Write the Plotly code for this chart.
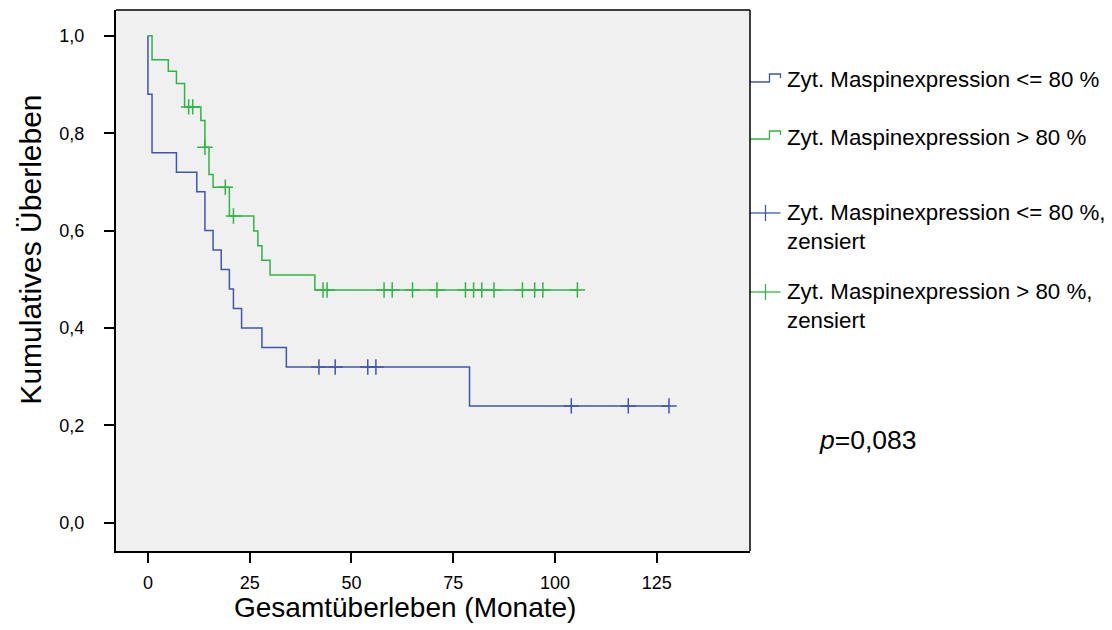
import plotly.graph_objects as go

# ---------------- data ----------------
blue_name = "Zyt. Maspinexpression <= 80 %"
green_name = "Zyt. Maspinexpression > 80 %"
censored_suffix = "zensiert"

blue_times = [0, 0, 1, 7, 12, 14, 16, 18, 20, 21, 23, 28, 34, 79]
blue_surv = [1.0, 0.88, 0.76, 0.72, 0.68, 0.60, 0.56, 0.52, 0.48, 0.44, 0.40, 0.36, 0.32, 0.24]
blue_cens_t = [42, 46, 54, 56, 104, 118, 128]

green_times = [0, 1, 5, 7, 9, 13, 14, 15, 16, 20, 26, 27, 28, 30, 41]
green_surv = [1.0, 0.951, 0.927, 0.902, 0.854, 0.826, 0.771, 0.715, 0.689, 0.630,
              0.599, 0.569, 0.539, 0.509, 0.478]
green_cens_t = [10, 11, 14, 19, 21, 43, 44, 58, 60, 65, 71, 78, 80, 82, 85, 92, 95, 97, 105.5]

x_ticks = [0, 25, 50, 75, 100, 125]
y_ticks = [0.0, 0.2, 0.4, 0.6, 0.8, 1.0]
x_title = "Gesamtüberleben (Monate)"
y_title = "Kumulatives Überleben"
p_text = "<i>p</i>=0,083"

BLUE = "#3f56ad"
GREEN = "#2fb543"
FONT = "Liberation Sans, Arial, sans-serif"


def step_value(times, surv, t):
    v = surv[0]
    for ti, si in zip(times, surv):
        if ti <= t:
            v = si
    return v


def esc(s):
    return s.replace("<=", "&lt;=").replace("> ", "&gt; ")


fig = go.Figure()

for times, surv, cens, col, name in [
    (blue_times, blue_surv, blue_cens_t, BLUE, blue_name),
    (green_times, green_surv, green_cens_t, GREEN, green_name),
]:
    xs = times + [max(cens)]
    ys = surv + [surv[-1]]
    fig.add_trace(go.Scatter(x=xs, y=ys, mode="lines", line=dict(color=col, width=1.5, shape="hv"),
                             name=name, showlegend=False, hoverinfo="skip"))
for times, surv, cens, col, name in [
    (blue_times, blue_surv, blue_cens_t, BLUE, blue_name),
    (green_times, green_surv, green_cens_t, GREEN, green_name),
]:
    fig.add_trace(go.Scatter(x=cens, y=[step_value(times, surv, t) for t in cens], mode="markers",
                             marker=dict(symbol="cross-thin", size=11, color=col,
                                         line=dict(color=col, width=1.5)),
                             name=name + ", " + censored_suffix, showlegend=False))

# ---------------- layout ----------------
W, H = 1112, 630
L, R, T, B = 115.5, 750.5, 10, 551


def px(x):
    return (x - L) / (R - L)


def py(y):
    return (B - y) / (B - T)


annotations = []
shapes = []

# axis titles
annotations.append(dict(x=px(405), y=py(607), xref="paper", yref="paper", text=x_title, showarrow=False,
                        font=dict(family=FONT, size=28, color="black"), xanchor="center", yanchor="middle"))
annotations.append(dict(x=px(30), y=py(250), xref="paper", yref="paper", text=y_title, showarrow=False,
                        textangle=-90, font=dict(family=FONT, size=30, color="black"),
                        xanchor="center", yanchor="middle"))
annotations.append(dict(x=px(818), y=py(440), xref="paper", yref="paper", text=p_text, showarrow=False,
                        font=dict(family=FONT, size=26.5, color="black"), xanchor="left", yanchor="middle"))

# legend (manual)
legend_items = [
    (esc(blue_name), BLUE, "step", 82),
    (esc(green_name), GREEN, "step", 139),
    (esc(blue_name) + ",<br>" + censored_suffix, BLUE, "cross", 213),
    (esc(green_name) + ",<br>" + censored_suffix, GREEN, "cross", 292),
]
for text, col, kind, yc in legend_items:
    if kind == "step":
        path = "M {} {} L {} {} L {} {} L {} {} L {} {}".format(
            px(750), py(yc), px(770), py(yc), px(770), py(yc - 8), px(781), py(yc - 8), px(781), py(yc - 4))
        shapes.append(dict(type="path", xref="paper", yref="paper", path=path,
                           line=dict(color=col, width=1.3)))
        annotations.append(dict(x=px(786), y=py(yc - 2), xref="paper", yref="paper", text=text,
                                showarrow=False, align="left", xanchor="left", yanchor="middle",
                                font=dict(family=FONT, size=22.3, color="black")))
    else:
        shapes.append(dict(type="line", xref="paper", yref="paper", x0=px(750), x1=px(781),
                           y0=py(yc), y1=py(yc), line=dict(color=col, width=1.3)))
        shapes.append(dict(type="line", xref="paper", yref="paper", x0=px(766), x1=px(766),
                           y0=py(yc - 8), y1=py(yc + 8), line=dict(color=col, width=1.3)))
        annotations.append(dict(x=px(786), y=py(yc + 14), xref="paper", yref="paper", text=text,
                                showarrow=False, align="left", xanchor="left", yanchor="middle",
                                font=dict(family=FONT, size=22.3, color="black")))

# top & right frame
shapes.append(dict(type="line", xref="paper", yref="paper", x0=0, x1=1, y0=1, y1=1,
                   line=dict(color="black", width=1.5)))
shapes.append(dict(type="line", xref="paper", yref="paper", x0=1, x1=1, y0=0, y1=1,
                   line=dict(color="black", width=1.5)))

axis_common = dict(showgrid=False, zeroline=False, showline=True, linecolor="black", linewidth=2,
                   ticks="outside", ticklen=10, tickwidth=2, tickcolor="black",
                   tickfont=dict(family=FONT, size=18, color="black"))

fig.update_layout(
    width=W, height=H, autosize=False,
    margin=dict(l=L, r=W - R, t=T, b=H - B, pad=0),
    paper_bgcolor="white", plot_bgcolor="#f0f0f0",
    separators=",.",
    showlegend=False,
    xaxis=dict(range=[-7.85, 147.9], tickvals=x_ticks, ticklabelstandoff=4, **axis_common),
    yaxis=dict(range=[-0.058, 1.053], tickvals=y_ticks, tickformat=".1f", ticklabelstandoff=16,
               **axis_common),
    annotations=annotations,
    shapes=shapes,
)

fig.write_html("out.html")
